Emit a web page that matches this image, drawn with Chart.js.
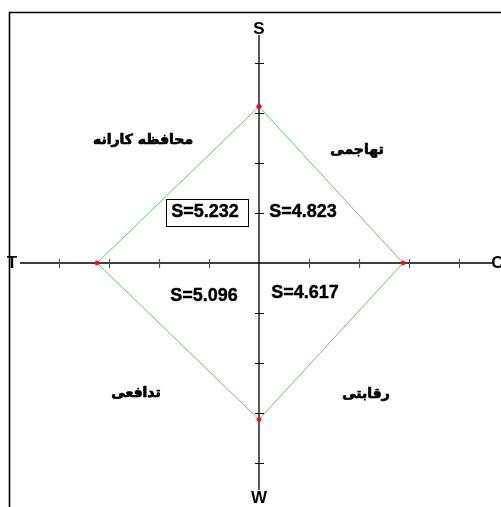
<!DOCTYPE html>
<html>
<head>
<meta charset="utf-8">
<script src="https://cdn.jsdelivr.net/npm/chart.js@4"></script>
<style>
  html, body { margin: 0; padding: 0; background: #fff; }
  #wrap { width: 501px; height: 507px; }
</style>
</head>
<body>
<div id="wrap"><canvas id="space"></canvas></div>
<script>
// vertices of the strategy polygon, in axis units (S, C, W, T)
const axisNames = ['S', 'C', 'W', 'T'];
const vertexX   = [0, 2.88, 0, -3.24];
const vertexY   = [3.13, 0, -3.13, 0];
const tickVals  = [-4, -3, -2, -1, 1, 2, 3, 4];
const quadNames = ['تهاجمی', 'محافظه کارانه', 'تدافعی', 'رقابتی'];
const scoreText = ['S=4.823', 'S=5.232', 'S=5.096', 'S=4.617'];

const pts = vertexX.map((x, i) => ({ x: x, y: vertexY[i] }));
pts.push(pts[0]);

const arabicFont = 'bold 14px "DejaVu Sans", sans-serif';
const latinFont  = 'bold 18px "Liberation Sans", Arial, sans-serif';

const decor = {
  id: 'decor',
  beforeDatasetsDraw(chart) {
    const ctx = chart.ctx, xs = chart.scales.x, ys = chart.scales.y;
    const x0 = xs.getPixelForValue(0), y0 = ys.getPixelForValue(0);
    ctx.save();
    // outer frame (open on right/bottom, runs off the picture)
    ctx.strokeStyle = '#000';
    ctx.lineWidth = 1.6;
    ctx.beginPath();
    ctx.moveTo(9.5, 520); ctx.lineTo(9.5, 12.5); ctx.lineTo(520, 12.5);
    ctx.stroke();
    // axes
    ctx.lineWidth = 1.3;
    ctx.beginPath();
    ctx.moveTo(xs.left, y0); ctx.lineTo(xs.right, y0);
    ctx.moveTo(x0, ys.top); ctx.lineTo(x0, ys.bottom);
    ctx.stroke();
    // tick marks
    ctx.lineWidth = 1.2;
    ctx.strokeStyle = '#555';
    ctx.beginPath();
    tickVals.forEach(v => {
      const px = Math.round(xs.getPixelForValue(v)) + 0.5;
      ctx.moveTo(px, y0 - 4); ctx.lineTo(px, y0 + 5);
    });
    ctx.stroke();
    ctx.strokeStyle = '#000';
    ctx.beginPath();
    tickVals.forEach(v => {
      const py = Math.round(ys.getPixelForValue(v)) + 0.5;
      ctx.moveTo(x0 - 4, py); ctx.lineTo(x0 + 5, py);
    });
    ctx.stroke();
    ctx.restore();
  },
  afterDatasetsDraw(chart) {
    const ctx = chart.ctx, xs = chart.scales.x, ys = chart.scales.y;
    const px = v => xs.getPixelForValue(v), py = v => ys.getPixelForValue(v);
    ctx.save();
    ctx.fillStyle = '#000';
    ctx.strokeStyle = '#000';
    ctx.textAlign = 'center';
    ctx.textBaseline = 'middle';
    // axis end letters
    ctx.font = 'bold 17px "Liberation Sans", Arial, sans-serif';
    ctx.fillText(axisNames[0], px(0), py(4.68));
    ctx.fillText(axisNames[2], px(0), py(-4.7));
    ctx.fillText(axisNames[1], px(4.77), py(0));
    ctx.fillText(axisNames[3], px(-4.94), py(0));
    // quadrant names (a thin stroke gives them the heavier look)
    ctx.font = arabicFont;
    ctx.lineWidth = 0.7;
    const quad = (t, x, y) => { ctx.fillText(t, px(x), py(y)); ctx.strokeText(t, px(x), py(y)); };
    quad(quadNames[0], 1.96, 2.26);
    quad(quadNames[1], -2.32, 2.45);
    quad(quadNames[2], -2.46, -2.6);
    quad(quadNames[3], 2.14, -2.62);
    // scores
    ctx.font = latinFont;
    ctx.lineWidth = 0.4;
    const score = (t, x, y) => { ctx.fillText(t, px(x), py(y)); ctx.strokeText(t, px(x), py(y)); };
    score(scoreText[0], 0.88, 1.01);
    score(scoreText[1], -1.08, 1.01);
    score(scoreText[2], -1.1, -0.66);
    score(scoreText[3], 0.92, -0.6);
    // box around the chosen score
    ctx.lineWidth = 1;
    ctx.strokeRect(Math.round(px(-1.86)) + 0.5, Math.round(py(1.28)) + 0.5, 82, 27);
    ctx.restore();
  }
};

new Chart(document.getElementById('space'), {
  type: 'scatter',
  data: {
    datasets: [{
      data: pts,
      showLine: true,
      borderColor: '#62c862',
      borderWidth: 1,
      pointBackgroundColor: '#e8101a',
      pointBorderColor: '#e8101a',
      pointRadius: 2,
      tension: 0
    }]
  },
  options: {
    responsive: true,
    maintainAspectRatio: false,
    animation: false,
    layout: { padding: { left: 20, right: 9, top: 35, bottom: 17 } },
    plugins: { legend: { display: false }, tooltip: { enabled: false } },
    scales: {
      x: { type: 'linear', min: -4.78, max: 4.66, display: false },
      y: { type: 'linear', min: -4.54, max: 4.56, display: false }
    }
  },
  plugins: [decor]
});
</script>
</body>
</html>
